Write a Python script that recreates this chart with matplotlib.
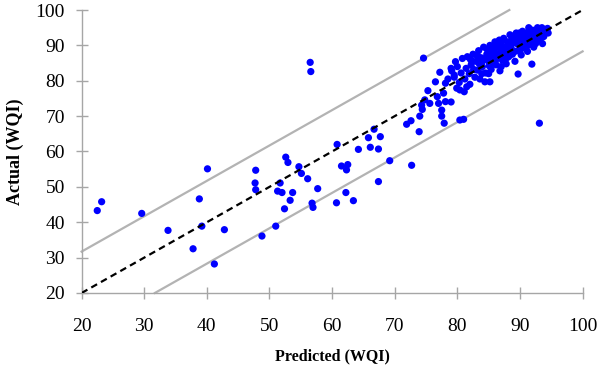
import matplotlib
matplotlib.use("Agg")
import matplotlib.pyplot as plt
import numpy as np

# Sparse points (predicted, actual)
sparse_pred = [22.5, 23.2, 29.6, 33.8, 37.8, 38.8, 39.2, 40.1, 41.2, 42.8, 47.8, 47.7, 47.8, 48.8,
               51.0, 51.3, 51.7, 52.0, 52.4, 52.6, 52.95, 53.3, 53.7, 54.7, 55.1, 56.1, 56.8, 56.95,
               57.7, 56.5, 56.6, 60.8, 61.5, 62.5, 62.3, 62.2, 60.7, 63.4, 64.2, 65.8, 66.1, 66.7,
               67.7, 67.4, 67.4, 69.2, 72.7, 73.9, 71.9, 72.6, 74.0, 74.4, 74.3, 74.8, 75.3, 75.6,
               76.5, 76.8, 77.2, 77.5, 77.5, 77.9, 77.8, 78.1, 79.0, 78.1, 79.1, 79.7, 79.5, 79.9,
               80.4, 81.0, 81.1, 82.3, 84.4, 85.2, 89.7, 91.9, 93.1, 74.6, 77.0, 80.4, 81.5]
sparse_act = [43.3, 45.8, 42.5, 37.7, 32.5, 46.6, 38.9, 55.1, 28.2, 37.9, 54.7, 51.1, 49.2, 36.1,
              38.9, 48.8, 51.1, 48.4, 43.8, 58.4, 56.9, 46.2, 48.4, 55.7, 53.8, 52.3, 45.4, 44.2,
              49.5, 85.2, 82.6, 62.0, 55.9, 56.3, 54.8, 48.4, 45.5, 46.1, 60.6, 63.9, 61.2, 66.3,
              64.2, 60.7, 51.5, 57.4, 56.1, 65.6, 67.7, 68.7, 70.0, 71.9, 73.1, 74.6, 77.2, 73.6,
              79.7, 75.5, 82.4, 71.7, 70.0, 68.0, 76.5, 74.1, 74.0, 79.3, 82.8, 85.4, 81.6, 77.9,
              68.9, 69.1, 76.9, 85.6, 79.7, 79.7, 81.9, 84.7, 68.0, 86.4, 73.6, 77.4, 78.3]

# Dense cluster points (predicted, actual)
cluster_pred = [78.5, 79.0, 79.5, 80.0, 80.3, 80.6, 80.8,
                81.2, 81.4, 81.6, 81.9, 82.0, 82.2, 82.5, 82.8,
                83.0, 83.2, 83.4, 83.6, 83.8, 84.0, 84.2, 84.5, 84.7,
                85.0, 85.2, 85.4, 85.6, 85.8, 86.0, 86.2, 86.4, 86.6, 86.8,
                87.0, 87.2, 87.4, 87.6, 87.8, 88.0, 88.2, 88.4, 88.6, 88.8,
                89.0, 89.2, 89.4, 89.6, 89.8, 90.0, 90.2, 90.4, 90.6, 90.8,
                91.0, 91.2, 91.4, 91.6, 91.8, 92.0, 92.2, 92.4, 92.6, 92.8,
                93.0, 93.3, 93.6, 93.9, 94.2, 94.5,
                82.1, 82.6, 83.1, 83.5, 83.9, 84.3, 84.8, 85.1, 85.5, 85.9,
                86.3, 86.7, 87.1, 87.5, 87.9, 88.3, 88.7, 89.1, 89.5, 89.9,
                90.1, 90.5, 90.9, 91.3, 91.7, 92.1, 92.5, 92.9, 93.2, 93.5,
                93.8, 94.1, 94.4, 86.0, 88.0, 90.0, 92.0, 84.0, 85.0, 87.0,
                83.3, 84.6, 85.7, 86.5, 87.3, 88.1, 88.9, 89.7, 90.3, 91.1,
                91.5, 92.3, 93.1, 85.3, 86.9, 88.5, 90.7, 89.3]
cluster_act = [80.5, 83.5, 81.0, 84.0, 79.5, 82.2, 86.3,
               80.5, 83.5, 86.8, 82.0, 79.0, 84.5, 87.5, 81.0,
               85.5, 83.0, 88.5, 80.5, 86.5, 84.0, 89.5, 82.2, 87.5,
               85.5, 90.0, 83.2, 88.5, 86.5, 91.0, 84.5, 89.5, 87.5, 82.8,
               90.5, 85.8, 92.0, 88.3, 84.8, 91.0, 86.8, 93.0, 89.2, 87.5,
               91.8, 85.5, 93.5, 88.5, 90.5, 92.8, 87.3, 94.0, 89.5, 91.5,
               93.5, 88.3, 95.0, 90.5, 92.5, 94.3, 89.5, 91.5, 93.5, 95.0,
               92.0, 94.0, 90.5, 93.2, 94.5, 93.5,
               86.0, 83.2, 87.2, 84.8, 82.0, 86.0, 88.8, 84.2, 87.0, 89.5,
               86.2, 91.5, 87.3, 89.5, 86.5, 90.2, 92.0, 88.2, 90.5, 93.5,
               88.8, 91.0, 93.0, 90.0, 94.0, 92.5, 90.5, 93.0, 91.5, 95.0,
               92.5, 93.8, 94.8, 88.0, 88.5, 90.5, 91.0, 85.5, 82.0, 84.0,
               86.8, 86.5, 85.0, 90.2, 88.8, 89.8, 90.8, 92.2, 91.8, 92.0,
               91.6, 92.8, 94.6, 89.0, 89.0, 87.5, 92.6, 93.0]

ticks = [20, 30, 40, 50, 60, 70, 80, 90, 100]
band = 11.7

fig = plt.figure(figsize=(6, 3.75), dpi=100)
ax = fig.add_axes([0.136, 0.2187, 0.835, 0.7546])

ax.set_xlim(20, 100)
ax.set_ylim(20, 100)

grey = "#b3b3b3"
xu = np.array([20, 100 - band])
ax.plot(xu, xu + band, color=grey, lw=1.6, zorder=1, clip_on=False)
xl = np.array([20 + band, 100])
ax.plot(xl, xl - band, color=grey, lw=1.6, zorder=1, clip_on=False)
ax.plot([20, 100], [20, 100], color="black", lw=1.6, ls=(0, (3, 2)), zorder=3)

ax.scatter(sparse_pred, sparse_act, s=27, color="#0000ff", edgecolors="none", zorder=2, clip_on=False)
ax.scatter(cluster_pred, cluster_act, s=27, color="#0000ff", edgecolors="none", zorder=2, clip_on=False)

for side in ["top", "right"]:
    ax.spines[side].set_visible(False)
for side in ["left", "bottom"]:
    ax.spines[side].set_color("#a6a6a6")
    ax.spines[side].set_linewidth(1.0)

ax.set_xticks(ticks)
ax.set_yticks(ticks)
ax.set_xticklabels([str(t) for t in ticks])
ax.set_yticklabels([str(t) for t in ticks])
ax.tick_params(axis="both", direction="inout", length=8, width=1.0, color="#a6a6a6",
               labelsize=14, labelcolor="black")
ax.tick_params(axis="y", pad=8)
ax.tick_params(axis="x", pad=14)
for lab in ax.get_xticklabels() + ax.get_yticklabels():
    lab.set_family("Liberation Serif")

ax.set_xlabel("Predicted (WQI)", fontsize=11.5, fontweight="bold", family="Liberation Serif", labelpad=10)
ax.set_ylabel("Actual (WQI)", fontsize=13, fontweight="bold", family="Liberation Serif", labelpad=8)

fig.savefig("out.png", dpi=100)
